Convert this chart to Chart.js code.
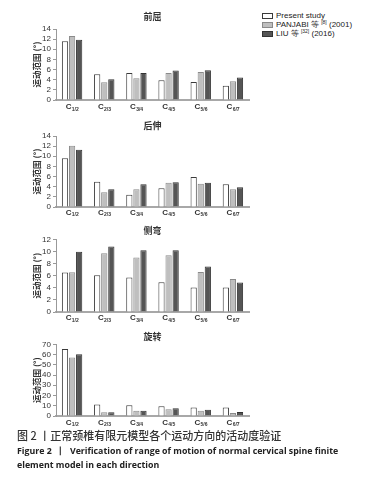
<!DOCTYPE html>
<html><head><meta charset="utf-8">
<script src="https://cdn.jsdelivr.net/npm/chart.js@4.4.1/dist/chart.umd.min.js"></script>
<style>
html,body{margin:0;padding:0;background:#fff;width:372px;height:490px;overflow:hidden;position:relative;}
canvas{position:absolute;}
.lg{position:absolute;left:262px;font:8px "Liberation Sans",Arial,sans-serif;color:#222;white-space:nowrap;line-height:9px;}
.lg i{position:absolute;left:0;top:2px;width:9px;height:4px;}
.lg span{position:absolute;left:14px;top:0;}
.lg sup{font-size:5px;vertical-align:3px;line-height:0;}
.cap{position:absolute;left:17px;white-space:nowrap;color:#222;}
</style></head>
<body>
<canvas id="c1" width="230" height="115" style="left:30px;top:0px"></canvas>
<canvas id="c2" width="230" height="107" style="left:30px;top:115px"></canvas>
<canvas id="c3" width="230" height="105" style="left:30px;top:222px"></canvas>
<canvas id="c4" width="230" height="104" style="left:30px;top:327px"></canvas>
<div id="legend"></div>
<div class="cap" style="top:428px;font:500 11px 'Noto Sans CJK SC';color:#333;line-height:15px">图 2 丨正常颈椎有限元模型各个运动方向的活动度验证</div>
<div class="cap" style="top:444px;font:bold 8.8px 'Open Sans';line-height:14px">Figure 2 &nbsp;丨&nbsp; Verification of range of motion of normal cervical spine finite<br>element model in each direction</div>
<script>
// ---- data ----
const categories = ['C1/2','C2/3','C3/4','C4/5','C5/6','C6/7'];
const seriesNames = ['Present study','PANJABI 等','LIU 等'];
const seriesRefs = ['[8]','[32]'];
const seriesYears = ['','(2001)','(2016)'];
const panelTitles = ['前屈','后伸','侧弯','旋转'];
const yTitle = '运动范围 (°)';

const flexionPresent = [11.6, 5.1, 5.3, 3.9, 3.55, 2.8];
const flexionPanjabi = [12.6, 3.5, 4.3, 5.3, 5.5, 3.7];
const flexionLiu     = [11.9, 4.1, 5.3, 5.8, 5.85, 4.45];

const extensionPresent = [9.6, 5.0, 2.4, 3.7, 5.9, 4.5];
const extensionPanjabi = [12.1, 2.9, 3.5, 4.8, 4.6, 3.5];
const extensionLiu     = [11.3, 3.5, 4.5, 4.9, 4.8, 3.9];

const bendingPresent = [6.5, 6.05, 5.7, 4.9, 4.05, 4.05];
const bendingPanjabi = [6.55, 9.7, 9.0, 9.35, 6.6, 5.45];
const bendingLiu     = [9.95, 10.8, 10.2, 10.2, 7.5, 4.85];

const rotationPresent = [65.5, 11.3, 10.4, 9.4, 8.4, 8.4];
const rotationPanjabi = [57, 3.6, 5.2, 6.5, 5.2, 2.9];
const rotationLiu     = [60.3, 3.6, 5.2, 7.5, 6.2, 3.9];

const yMaxes = [14, 14, 12, 70];
const ySteps = [2, 2, 2, 10];

// ---- styles ----
const fills = ['#ffffff', '#bfbfbf', '#555555'];
const borders = ['#3a3a3a', '#8a8a8a', '#333333'];

// legend (HTML)
const lgTops = [11, 20, 29];
document.getElementById('legend').innerHTML = seriesNames.map((n, i) => {
  const ref = i > 0 ? ' <sup>' + seriesRefs[i - 1] + '</sup> ' + seriesYears[i] : '';
  return '<div class="lg" style="top:' + lgTops[i] + 'px"><i style="background:' + fills[i] +
    ';border:1px solid ' + borders[i] + '"></i><span>' + n + ref + '</span></div>';
}).join('');

const deco = {
  id: 'deco',
  afterDraw(chart, args, opts) {
    const ctx = chart.ctx, a = chart.chartArea, xs = chart.scales.x;
    ctx.save();
    ctx.fillStyle = '#333';
    ctx.textBaseline = 'middle';
    ctx.textAlign = 'center';
    ctx.font = '600 9px "Noto Sans CJK SC"';
    ctx.fillText(opts.title, (a.left + a.right) / 2, opts.titleY);
    ctx.textAlign = 'left';
    const y = a.bottom + opts.labelDy;
    chart.data.labels.forEach((lab, i) => {
      const px = xs.getPixelForTick(i);
      const main = lab.charAt(0), sub = lab.slice(1);
      ctx.font = 'bold 8px "Liberation Sans"';
      const w1 = ctx.measureText(main).width;
      ctx.font = 'bold 5px "Liberation Sans"';
      const w2 = ctx.measureText(sub).width;
      const s = px - (w1 + w2) / 2;
      ctx.font = 'bold 8px "Liberation Sans"';
      ctx.fillText(main, s, y);
      ctx.font = 'bold 5px "Liberation Sans"';
      ctx.fillText(sub, s + w1 + 0.3, y + 2.5);
    });
    ctx.restore();
  }
};

function makeChart(id, idx, padTop, titleY, labelDy, d1, d2, d3) {
  const ds = [d1, d2, d3].map((d, i) => ({
    label: seriesNames[i], data: d,
    backgroundColor: fills[i], borderColor: borders[i], borderWidth: 1,
    categoryPercentage: 0.66, barPercentage: 0.88
  }));
  new Chart(document.getElementById(id), {
    type: 'bar',
    data: { labels: categories, datasets: ds },
    plugins: [deco],
    options: {
      responsive: false, animation: false, devicePixelRatio: 1,
      layout: { padding: { top: padTop, right: 11, left: 0, bottom: 0 } },
      plugins: {
        legend: { display: false }, tooltip: { enabled: false }, title: { display: false },
        deco: { title: panelTitles[idx], titleY: titleY, labelDy: labelDy }
      },
      scales: {
        x: {
          grid: { display: false },
          border: { display: true, color: '#a8a8a8', width: 2 },
          ticks: { display: false },
          afterFit(s) { s.height = 15; }
        },
        y: {
          min: 0, max: yMaxes[idx],
          ticks: { stepSize: ySteps[idx], autoSkip: false, color: '#333', padding: 2,
                   font: { family: 'Liberation Sans', size: 8 } },
          grid: { display: true, drawOnChartArea: false, tickLength: 3, tickColor: '#999', color: '#999' },
          border: { display: true, color: '#999', width: 1 },
          title: { display: true, text: yTitle, color: '#333', padding: { top: 2, bottom: 0 },
                   font: { family: 'Noto Sans CJK SC', size: 8.5, weight: 'bold' } },
          afterFit(s) { s.width = 26; }
        }
      }
    }
  });
}

makeChart('c1', 0, 29, 17, 7, flexionPresent, flexionPanjabi, flexionLiu);
makeChart('c2', 1, 21, 10.7, 5.5, extensionPresent, extensionPanjabi, extensionLiu);
makeChart('c3', 2, 17.3, 8.7, 6, bendingPresent, bendingPanjabi, bendingLiu);
makeChart('c4', 3, 17.3, 9.7, 6.5, rotationPresent, rotationPanjabi, rotationLiu);
</script>
</body></html>
